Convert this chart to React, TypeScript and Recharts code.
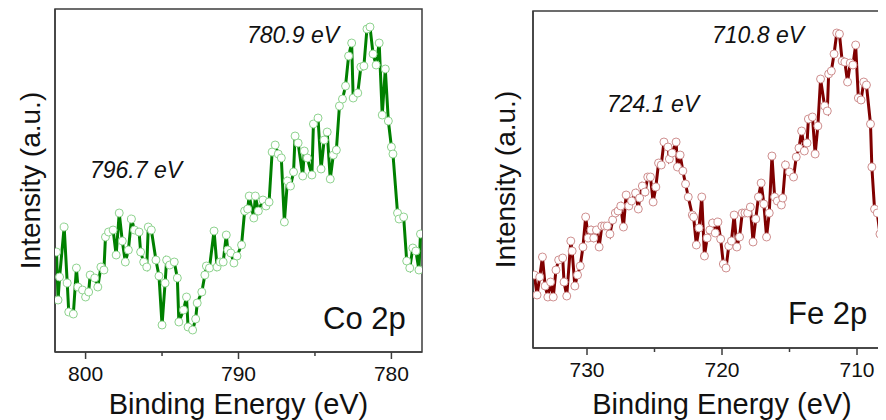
import { LineChart, Line, XAxis, YAxis, ReferenceArea, Label } from 'recharts';

// Co 2p scan (binding energy, eV) and intensity (a.u.)
const coEnergy = [
  801.9, 801.8, 801.7, 801.4, 801.2, 801.1, 800.8, 800.6, 800.5, 800.2,
  800.0, 799.8, 799.7, 799.4, 799.2, 799.0, 798.8, 798.7, 798.5, 798.2,
  798.0, 797.8, 797.6, 797.4, 797.2, 797.0, 796.8, 796.5, 796.4, 796.2,
  796.0, 795.9, 795.7, 795.4, 795.2, 795.0, 794.8, 794.7, 794.5, 794.2,
  794.0, 793.9, 793.6, 793.4, 793.3, 793.0, 792.8, 792.7, 792.4, 792.2,
  792.1, 791.9, 791.6, 791.4, 791.2, 791.0, 790.8, 790.7, 790.5, 790.3,
  790.1, 789.8, 789.6, 789.4, 789.3, 789.0, 788.9, 788.7, 788.4, 788.2,
  788.0, 787.8, 787.6, 787.4, 787.2, 787.0, 786.8, 786.6, 786.4, 786.3,
  786.1, 785.8, 785.7, 785.5, 785.2, 785.1, 784.8, 784.6, 784.4, 784.2,
  784.0, 783.8, 783.6, 783.4, 783.2, 783.0, 782.8, 782.6, 782.5, 782.2,
  782.0, 781.8, 781.6, 781.4, 781.2, 781.0, 780.8, 780.6, 780.4, 780.2,
  780.0, 779.9, 779.6, 779.5, 779.2, 779.0, 778.8, 778.6, 778.4, 778.2, 778.1,
];
const coIntensity = [
  100, 52, 75, 125, 69, 40, 38, 84, 65, 62,
  55, 60, 77, 74, 65, 85, 82, 115, 120, 122,
  97, 139, 111, 90, 102, 133, 122, 120, 100, 90,
  85, 125, 122, 92, 76, 27, 69, 92, 87, 90,
  74, 30, 42, 55, 25, 22, 33, 49, 60, 77,
  86, 84, 121, 85, 90, 90, 117, 102, 99, 89,
  96, 107, 141, 143, 156, 134, 156, 141, 152, 146,
  150, 200, 207, 198, 194, 130, 171, 166, 180, 216,
  209, 176, 201, 194, 177, 228, 234, 183, 212, 220,
  173, 197, 202, 246, 253, 266, 296, 309, 254, 259,
  285, 286, 323, 325, 298, 287, 309, 237, 283, 231,
  205, 198, 139, 133, 135, 91, 84, 104, 101, 82, 118,
];

// Fe 2p scan
const feEnergy = [
  733.9, 733.7, 733.5, 733.3, 733.1, 732.9, 732.7, 732.5, 732.3, 732.1,
  731.8, 731.7, 731.5, 731.2, 731.1, 730.9, 730.7, 730.5, 730.3, 730.1,
  729.9, 729.7, 729.5, 729.3, 729.1, 728.9, 728.7, 728.5, 728.3, 728.1,
  727.9, 727.7, 727.5, 727.3, 727.1, 726.9, 726.7, 726.4, 726.2, 726.1,
  725.9, 725.7, 725.5, 725.3, 725.1, 724.9, 724.7, 724.5, 724.3, 724.0,
  723.9, 723.7, 723.4, 723.3, 723.1, 722.9, 722.7, 722.5, 722.2, 722.1,
  721.9, 721.7, 721.5, 721.3, 721.1, 720.9, 720.7, 720.5, 720.3, 720.1,
  719.9, 719.7, 719.5, 719.3, 719.1, 718.9, 718.7, 718.5, 718.3, 718.1,
  717.9, 717.7, 717.5, 717.3, 717.1, 716.9, 716.7, 716.5, 716.3, 716.1,
  715.9, 715.6, 715.5, 715.3, 715.0, 714.7, 714.5, 714.3, 714.1, 713.9,
  713.7, 713.6, 713.3, 713.1, 712.9, 712.7, 712.4, 712.2, 712.1, 711.9,
  711.7, 711.5, 711.3, 711.1, 710.9, 710.7, 710.5, 710.3, 710.1, 709.9,
  709.7, 709.5, 709.3, 709.0, 708.9, 708.7, 708.5, 708.3, 708.1, 708.0,
];
const feIntensity = [
  73, 53, 71, 91, 62, 51, 66, 51, 78, 88,
  90, 66, 52, 107, 97, 62, 73, 82, 101, 131,
  110, 118, 110, 118, 101, 122, 122, 122, 114, 128,
  135, 137, 142, 121, 153, 142, 147, 155, 139, 150,
  162, 156, 171, 171, 146, 161, 185, 183, 206, 201,
  189, 195, 206, 181, 193, 177, 164, 151, 133, 131,
  103, 120, 151, 92, 110, 118, 125, 115, 126, 109,
  84, 80, 102, 107, 133, 101, 111, 135, 135, 135,
  141, 106, 129, 151, 165, 144, 111, 135, 192, 151,
  147, 143, 150, 183, 176, 171, 191, 200, 217, 197,
  205, 229, 231, 194, 222, 269, 242, 237, 274, 277,
  294, 315, 314, 287, 286, 266, 285, 283, 303, 250,
  248, 266, 263, 224, 181, 139, 135, 114, 100, 73,
];

const coTicks = [780, 785, 790, 795, 800];
const feTicks = [710, 715, 720, 725, 730];

const coData = coEnergy.map((e, i) => ({ e, v: coIntensity[i] }));
const feData = feEnergy.map((e, i) => ({ e, v: feIntensity[i] }));

const frame = '#3c3c3c';
const font = "'Liberation Sans', Arial, sans-serif";

const EnergyTick = (props: any) => {
  const { x, y, payload } = props;
  const major = payload.value % 10 === 0;
  return (
    <g>
      <line x1={x} x2={x} y1={y} y2={y + (major ? 7 : 4)} stroke={frame} strokeWidth={1.5} />
      {major && (
        <text x={x} y={y + 29} textAnchor="middle" fontSize={21} fill="#111">
          {payload.value}
        </text>
      )}
    </g>
  );
};

type PanelProps = {
  data: { e: number; v: number }[];
  domain: [number, number];
  yMax: number;
  ticks: number[];
  line: string;
  marker: string;
  width: number;
  margin: { top: number; right: number; bottom: number; left: number };
  yWidth: number;
  labelOffset: number;
};

const Panel = ({ data, domain, yMax, ticks, line, marker, width, margin, yWidth, labelOffset }: PanelProps) => (
  <LineChart width={width} height={412} data={data} margin={margin}>
    <XAxis
      dataKey="e"
      type="number"
      domain={domain}
      reversed
      ticks={ticks}
      interval={0}
      tickSize={0}
      tickMargin={0}
      tickLine={false}
      tick={<EnergyTick />}
      height={60}
      axisLine={{ stroke: frame, strokeWidth: 1.5 }}
      allowDataOverflow
    >
      <Label value="Binding Energy (eV)" position="insideBottom" offset={labelOffset} fontSize={29} fill="#111" />
    </XAxis>
    <YAxis
      type="number"
      domain={[0, yMax]}
      tick={false}
      tickLine={false}
      width={yWidth}
      axisLine={{ stroke: frame, strokeWidth: 1.5 }}
    >
      <Label value="Intensity (a.u.)" angle={-90} position="center" fontSize={28} fill="#111" />
    </YAxis>
    <ReferenceArea
      x1={domain[0]}
      x2={domain[1]}
      y1={0}
      y2={yMax}
      fill="none"
      stroke={frame}
      strokeWidth={1.5}
      ifOverflow="visible"
    />
    <Line
      dataKey="v"
      stroke={line}
      strokeWidth={3}
      dot={{ r: 4, fill: '#fff', stroke: marker, strokeWidth: 1 }}
      activeDot={false}
      isAnimationActive={false}
    />
  </LineChart>
);

export default function App() {
  return (
    <div style={{ position: 'relative', width: 878, height: 412, overflow: 'hidden', fontFamily: font }}>
      <div style={{ position: 'absolute', left: -2, top: 0 }}>
        <Panel
          data={coData}
          domain={[778, 802]}
          yMax={343}
          ticks={coTicks}
          line="#008000"
          marker="#8fd38f"
          width={440}
          margin={{ top: 1, right: 24, bottom: 8, left: 0 }}
          yWidth={49}
          labelOffset={-2}
        />
      </div>
      <div style={{ position: 'absolute', left: 455, top: 0 }}>
        <Panel
          data={feData}
          domain={[706, 734]}
          yMax={337}
          ticks={feTicks}
          line="#800000"
          marker="#cf8f8f"
          width={470}
          margin={{ top: 3, right: 22, bottom: 12, left: 14 }}
          yWidth={56}
          labelOffset={-6}
        />
      </div>
      <svg
        width={878}
        height={412}
        style={{ position: 'absolute', left: 0, top: 0, pointerEvents: 'none' }}
      >
        <g fontStyle="italic" fontSize={23} fill="#111">
          <text x={239} y={35}>780.9 eV</text>
          <text x={82} y={170}>796.7 eV</text>
          <text x={704} y={35}>710.8 eV</text>
          <text x={599} y={104}>724.1 eV</text>
        </g>
        <g fontSize={31} fill="#111">
          <text x={315} y={321}>Co 2p</text>
          <text x={780} y={316}>Fe 2p</text>
        </g>
      </svg>
    </div>
  );
}
